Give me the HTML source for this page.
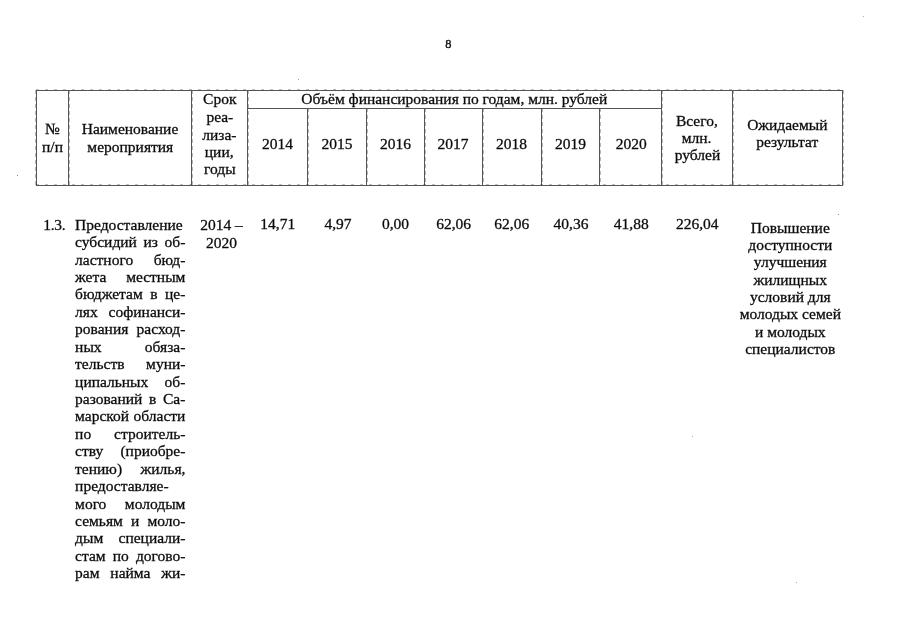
<!DOCTYPE html>
<html lang="ru"><head><meta charset="utf-8"><title>8</title>
<style>
html,body{margin:0;padding:0;background:#fff;}
body{width:905px;height:640px;position:relative;overflow:hidden;}
#pg{position:absolute;left:0;top:0;width:905px;height:640px;will-change:transform;font-family:"Liberation Serif",serif;font-size:15.5px;color:#0c0c0c;-webkit-text-stroke:0.3px #0c0c0c;}
.t{position:absolute;white-space:nowrap;line-height:18px;height:18px;}
.c{text-align:center;}
.j{text-align:justify;text-align-last:justify;white-space:normal;}
.v{position:absolute;width:1px;background:#555;}
.h{position:absolute;height:1px;background:#555;}
.v::after{content:"";position:absolute;left:1px;top:0;width:1px;height:100%;background:repeating-linear-gradient(180deg,rgba(0,0,0,.28) 0 4px,rgba(0,0,0,0) 4px 7px);}
.v.l::after{left:-1px;}
.h.f::after{content:"";position:absolute;left:0;top:-1px;height:1px;width:100%;background:repeating-linear-gradient(90deg,rgba(0,0,0,.25) 0 3px,rgba(0,0,0,0) 3px 9px);}
</style></head><body><div id="pg">

<div class="v l" style="left:36.0px;top:90.0px;height:96.0px"></div>
<div class="v" style="left:68.0px;top:90.0px;height:96.0px"></div>
<div class="v" style="left:191.0px;top:90.0px;height:96.0px"></div>
<div class="v" style="left:247.0px;top:90.0px;height:96.0px"></div>
<div class="v" style="left:661.0px;top:90.0px;height:96.0px"></div>
<div class="v" style="left:732.0px;top:90.0px;height:96.0px"></div>
<div class="v" style="left:842.4px;top:90.0px;height:96.0px"></div>
<div class="v" style="left:307.0px;top:108.0px;height:78.0px"></div>
<div class="v" style="left:366.0px;top:108.0px;height:78.0px"></div>
<div class="v" style="left:424.0px;top:108.0px;height:78.0px"></div>
<div class="v" style="left:482.0px;top:108.0px;height:78.0px"></div>
<div class="v" style="left:541.0px;top:108.0px;height:78.0px"></div>
<div class="v" style="left:599.0px;top:108.0px;height:78.0px"></div>
<div class="h f" style="left:36.0px;top:90.0px;width:807.4px"></div>
<div class="h f" style="left:36.0px;top:185.0px;width:807.4px"></div>
<div class="h" style="left:247.0px;top:108.0px;width:415.0px"></div>
<div id="t1" class="t c" style="left:348.40px;top:35.02px;width:200.0px;font-size:12.4px;-webkit-text-stroke:0.32px #0c0c0c"><span>8</span></div>
<div id="t2" class="t c" style="left:-47.60px;top:119.97px;width:200.0px;"><span>№</span></div>
<div id="t3" class="t c" style="left:-47.50px;top:137.97px;width:200.0px;"><span>п/п</span></div>
<div id="t4" class="t c" style="left:30.00px;top:119.97px;width:200.0px;"><span>Наименование</span></div>
<div id="t5" class="t c" style="left:30.30px;top:137.97px;width:200.0px;"><span>мероприятия</span></div>
<div id="t6" class="t c" style="left:119.75px;top:90.47px;width:200.0px;"><span>Срок</span></div>
<div id="t7" class="t c" style="left:119.85px;top:108.47px;width:200.0px;"><span>реа-</span></div>
<div id="t8" class="t c" style="left:119.35px;top:125.67px;width:200.0px;"><span>лиза-</span></div>
<div id="t9" class="t c" style="left:119.20px;top:142.82px;width:200.0px;"><span>ции,</span></div>
<div id="t10" class="t c" style="left:119.85px;top:159.97px;width:200.0px;"><span>годы</span></div>
<div id="t11" class="t c" style="left:254.30px;top:90.37px;width:400.0px;"><span>Объём финансирования по годам, млн. рублей</span></div>
<div id="t12" class="t c" style="left:177.43px;top:135.27px;width:200.0px;"><span>2014</span></div>
<div id="t13" class="t c" style="left:237.00px;top:135.27px;width:200.0px;"><span>2015</span></div>
<div id="t14" class="t c" style="left:295.40px;top:135.27px;width:200.0px;"><span>2016</span></div>
<div id="t15" class="t c" style="left:353.00px;top:135.27px;width:200.0px;"><span>2017</span></div>
<div id="t16" class="t c" style="left:411.60px;top:135.27px;width:200.0px;"><span>2018</span></div>
<div id="t17" class="t c" style="left:470.40px;top:135.27px;width:200.0px;"><span>2019</span></div>
<div id="t18" class="t c" style="left:531.20px;top:135.27px;width:200.0px;"><span>2020</span></div>
<div id="t19" class="t c" style="left:596.85px;top:111.97px;width:200.0px;"><span>Всего,</span></div>
<div id="t20" class="t c" style="left:596.55px;top:129.27px;width:200.0px;"><span>млн.</span></div>
<div id="t21" class="t c" style="left:597.50px;top:146.47px;width:200.0px;"><span>рублей</span></div>
<div id="t22" class="t c" style="left:687.35px;top:116.37px;width:200.0px;"><span>Ожидаемый</span></div>
<div id="t23" class="t c" style="left:687.25px;top:133.37px;width:200.0px;"><span>результат</span></div>
<div id="t24" class="t" style="left:43.20px;top:215.57px;letter-spacing:-0.3px"><span>1.3.</span></div>
<div id="t25" class="t" style="left:75.10px;top:215.72px;"><span>Предоставление</span></div>
<div id="t26" class="t j" style="left:75.10px;top:233.15px;width:110.30px;"><span>субсидий из об-</span></div>
<div id="t27" class="t j" style="left:75.10px;top:250.58px;width:110.30px;"><span>ластного бюд-</span></div>
<div id="t28" class="t j" style="left:75.10px;top:268.01px;width:110.30px;"><span>жета местным</span></div>
<div id="t29" class="t j" style="left:75.10px;top:285.44px;width:110.30px;"><span>бюджетам в це-</span></div>
<div id="t30" class="t j" style="left:75.10px;top:302.87px;width:110.30px;"><span>лях софинанси-</span></div>
<div id="t31" class="t j" style="left:75.10px;top:320.30px;width:110.30px;"><span>рования расход-</span></div>
<div id="t32" class="t j" style="left:75.10px;top:337.73px;width:110.30px;"><span>ных обяза-</span></div>
<div id="t33" class="t j" style="left:75.10px;top:355.16px;width:110.30px;"><span>тельств муни-</span></div>
<div id="t34" class="t j" style="left:75.10px;top:372.59px;width:110.30px;"><span>ципальных об-</span></div>
<div id="t35" class="t j" style="left:75.10px;top:390.02px;width:110.30px;"><span>разований в Са-</span></div>
<div id="t36" class="t j" style="left:75.10px;top:407.45px;width:110.30px;"><span>марской области</span></div>
<div id="t37" class="t j" style="left:75.10px;top:424.88px;width:110.30px;"><span>по строитель-</span></div>
<div id="t38" class="t j" style="left:75.10px;top:442.31px;width:110.30px;"><span>ству (приобре-</span></div>
<div id="t39" class="t j" style="left:75.10px;top:459.74px;width:110.30px;"><span>тению) жилья,</span></div>
<div id="t40" class="t" style="left:75.10px;top:477.17px;"><span>предоставляе-</span></div>
<div id="t41" class="t j" style="left:75.10px;top:494.60px;width:110.30px;"><span>мого молодым</span></div>
<div id="t42" class="t j" style="left:75.10px;top:512.03px;width:110.30px;"><span>семьям и моло-</span></div>
<div id="t43" class="t j" style="left:75.10px;top:529.46px;width:110.30px;"><span>дым специали-</span></div>
<div id="t44" class="t j" style="left:75.10px;top:546.89px;width:110.30px;"><span>стам по догово-</span></div>
<div id="t45" class="t j" style="left:75.10px;top:564.32px;width:110.30px;"><span>рам найма жи-</span></div>
<div id="t46" class="t c" style="left:121.50px;top:215.67px;width:200.0px;"><span>2014 –</span></div>
<div id="t47" class="t c" style="left:121.60px;top:233.77px;width:200.0px;"><span>2020</span></div>
<div id="t48" class="t c" style="left:177.80px;top:215.37px;width:200.0px;"><span>14,71</span></div>
<div id="t49" class="t c" style="left:237.95px;top:215.37px;width:200.0px;"><span>4,97</span></div>
<div id="t50" class="t c" style="left:295.55px;top:215.37px;width:200.0px;"><span>0,00</span></div>
<div id="t51" class="t c" style="left:353.65px;top:215.37px;width:200.0px;"><span>62,06</span></div>
<div id="t52" class="t c" style="left:411.75px;top:215.37px;width:200.0px;"><span>62,06</span></div>
<div id="t53" class="t c" style="left:471.05px;top:215.37px;width:200.0px;"><span>40,36</span></div>
<div id="t54" class="t c" style="left:531.25px;top:215.37px;width:200.0px;"><span>41,88</span></div>
<div id="t55" class="t c" style="left:597.20px;top:215.37px;width:200.0px;"><span>226,04</span></div>
<div id="t56" class="t c" style="left:690.30px;top:218.77px;width:200.0px;"><span>Повышение</span></div>
<div id="t57" class="t c" style="left:690.30px;top:236.11px;width:200.0px;"><span>доступности</span></div>
<div id="t58" class="t c" style="left:690.30px;top:253.45px;width:200.0px;"><span>улучшения</span></div>
<div id="t59" class="t c" style="left:690.30px;top:270.79px;width:200.0px;"><span>жилищных</span></div>
<div id="t60" class="t c" style="left:690.30px;top:288.13px;width:200.0px;"><span>условий для</span></div>
<div id="t61" class="t c" style="left:690.30px;top:305.47px;width:200.0px;"><span>молодых семей</span></div>
<div id="t62" class="t c" style="left:690.30px;top:322.81px;width:200.0px;"><span>и молодых</span></div>
<div id="t63" class="t c" style="left:690.30px;top:340.15px;width:200.0px;"><span>специалистов</span></div>
<div style="position:absolute;left:17px;top:175px;width:1px;height:1px;background:#888"></div>
<div style="position:absolute;left:298px;top:79px;width:1px;height:1px;background:#999"></div>
<div style="position:absolute;left:863px;top:16px;width:1px;height:1px;background:#aaa"></div>
<div style="position:absolute;left:838px;top:214px;width:1px;height:1px;background:#888"></div>
<div style="position:absolute;left:692px;top:436px;width:1px;height:1px;background:#aaa"></div>
<div style="position:absolute;left:796px;top:582px;width:1px;height:1px;background:#aaa"></div>
</div></body></html>
